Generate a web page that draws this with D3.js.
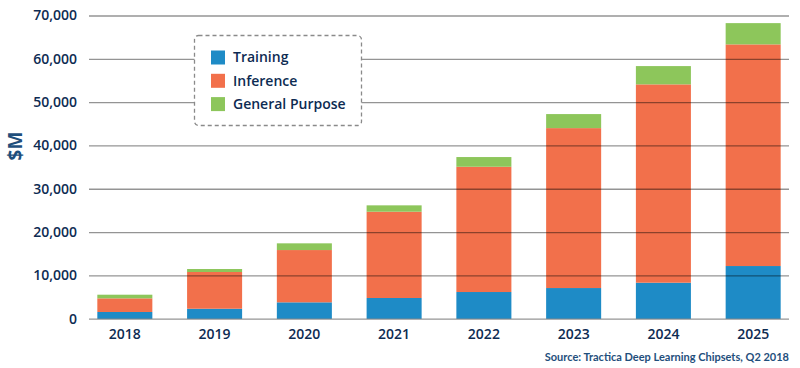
<!DOCTYPE html>
<html><head><meta charset="utf-8">
<script src="https://cdn.jsdelivr.net/npm/d3@7/dist/d3.min.js"></script>
<style>body{margin:0;background:#fff;}svg{display:block;font-family:"Open Sans",sans-serif;}</style>
</head><body><svg id="c" width="800" height="368"></svg>
<script>
const years = ["2018","2019","2020","2021","2022","2023","2024","2025"];
const training = [1550, 2300, 3780, 4780, 6160, 7080, 8310, 12160];
const inference = [3150, 8480, 12070, 19920, 28920, 36920, 45790, 51170];
const generalPurpose = [840, 690, 1550, 1470, 2240, 3240, 4220, 4910];
const seriesNames = ["Training","Inference","General Purpose"];
const seriesColors = ["#1e8bc6","#f2704b","#8dc65b"];
const yTicks = [0,10000,20000,30000,40000,50000,60000,70000];
const sourceText = "Source: Tractica Deep Learning Chipsets, Q2 2018";
const yTitle = "$M";

const svg = d3.select("#c");
const textColor = "#0d2b52";
const rows = years.map((y,i)=>({year:y, Training:training[i], Inference:inference[i], "General Purpose":generalPurpose[i]}));
const stack = d3.stack().keys(seriesNames)(rows);

const x = d3.scaleBand().domain(years).range([80, 798]).paddingInner(0.387).paddingOuter(0.193);
const y = d3.scaleLinear().domain([0,70000]).range([318.7, 15.5]);
const color = d3.scaleOrdinal().domain(seriesNames).range(seriesColors);

// bars
svg.append("g").selectAll("g").data(stack).join("g")
  .attr("fill", d=>color(d.key))
  .selectAll("rect").data(d=>d).join("rect")
  .attr("x", d=>x(d.data.year))
  .attr("width", x.bandwidth())
  .attr("y", d=>y(d[1]))
  .attr("height", d=>y(d[0])-y(d[1]));

// gridlines on top
const yAxis = d3.axisLeft(y).tickValues(yTicks).tickSize(-700).tickFormat(d3.format(","));
const ga = svg.append("g").attr("transform","translate(89,0)").call(yAxis);
ga.select(".domain").remove();
ga.selectAll(".tick line").attr("stroke","#000").attr("stroke-opacity",0.42).attr("stroke-width",1.3);
ga.selectAll(".tick text").attr("x",-12).attr("fill",textColor)
  .style("font-size","14px").style("font-weight","600").style("font-family","'Open Sans',sans-serif");

// x axis labels
const xAxis = d3.axisBottom(x).tickSize(0);
const gx = svg.append("g").attr("transform","translate(0,318.7)").call(xAxis);
gx.select(".domain").remove();
gx.selectAll(".tick text").attr("dy",0).attr("y",20).attr("fill",textColor)
  .style("font-size","14px").style("font-weight","600").style("font-family","'Open Sans',sans-serif");

// y title
svg.append("text").attr("transform","translate(22,146) rotate(-90)")
  .attr("text-anchor","middle").attr("fill","#1f4f7c")
  .style("font-size","19px").style("font-weight","700").text(yTitle);

// legend
const lg = svg.append("g");
lg.append("rect").attr("x",194.5).attr("y",35.5).attr("width",167).attr("height",90).attr("rx",4)
  .attr("fill","#fff").attr("stroke","#8a8a8a").attr("stroke-width",1.3).attr("stroke-dasharray","4,3");
seriesNames.forEach((s,i)=>{
  const cy = 57.5 + i*23.3;
  lg.append("rect").attr("x",211).attr("y",cy-7).attr("width",14).attr("height",14).attr("fill",color(s));
  lg.append("text").attr("x",233).attr("y",cy).attr("dy","0.35em").attr("fill",textColor)
    .style("font-size","14px").style("font-weight","600").text(s);
});

// source
svg.append("text").attr("x",789).attr("y",357).attr("dy","0.35em").attr("text-anchor","end")
  .attr("fill","#1f4f7c").style("font-family","Lato,sans-serif")
  .style("font-size","11px").style("font-weight","700").text(sourceText);
</script></body></html>
